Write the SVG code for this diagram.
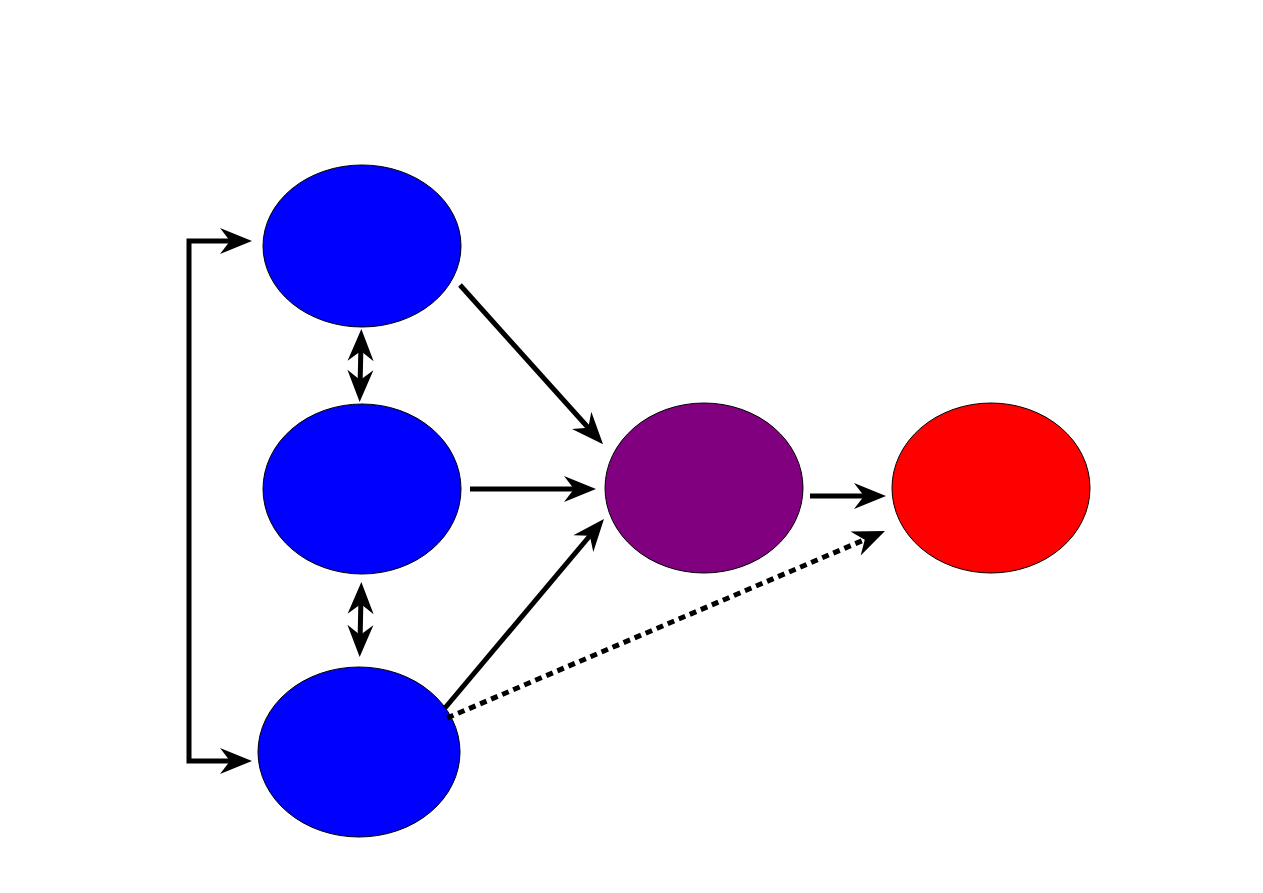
<svg xmlns="http://www.w3.org/2000/svg" width="1263" height="893" viewBox="0 0 1263 893">
<style>
.node{stroke:#000;stroke-width:1}
.edge{fill:none;stroke:#000;stroke-width:5}
.dot{stroke-dasharray:7 5}
</style>
<defs>
<marker id="ah" markerUnits="userSpaceOnUse" viewBox="-20 -15 38 30" markerWidth="38" markerHeight="30" refX="0" refY="0" orient="auto-start-reverse">
<path d="M15,0 L-17,-13 L-7,0 L-17,13 Z" fill="#000"/>
</marker>
</defs>
<rect width="1263" height="893" fill="#fff"/>
<g id="n1"><ellipse class="node" cx="362" cy="246" rx="99" ry="81" fill="#0000ff"/></g>
<g id="n2"><ellipse class="node" cx="362" cy="489" rx="99" ry="85" fill="#0000ff"/></g>
<g id="n3"><ellipse class="node" cx="359" cy="752" rx="101" ry="85" fill="#0000ff"/></g>
<g id="n4"><ellipse class="node" cx="704" cy="488" rx="99" ry="85" fill="#800080"/></g>
<g id="n5"><ellipse class="node" cx="991" cy="488" rx="99" ry="85" fill="#ff0000"/></g>
<g id="connectors">
<path class="edge" d="M237,241 H189 V761 H237" marker-start="url(#ah)" marker-end="url(#ah)"/>
<path class="edge" d="M361,344 L360,387" marker-start="url(#ah)" marker-end="url(#ah)"/>
<path class="edge" d="M361,597 L360,642" marker-start="url(#ah)" marker-end="url(#ah)"/>
<path class="edge" d="M460,285 L593,433" marker-end="url(#ah)"/>
<path class="edge" d="M470,489 L581,489" marker-end="url(#ah)"/>
<path class="edge" d="M445,708 L594.3,530.5" marker-end="url(#ah)"/>
<path class="edge" d="M810,496 L871,496" marker-end="url(#ah)"/>
<path class="edge dot" d="M447,718 L871.2,536.9" marker-end="url(#ah)"/>
</g>
</svg>
